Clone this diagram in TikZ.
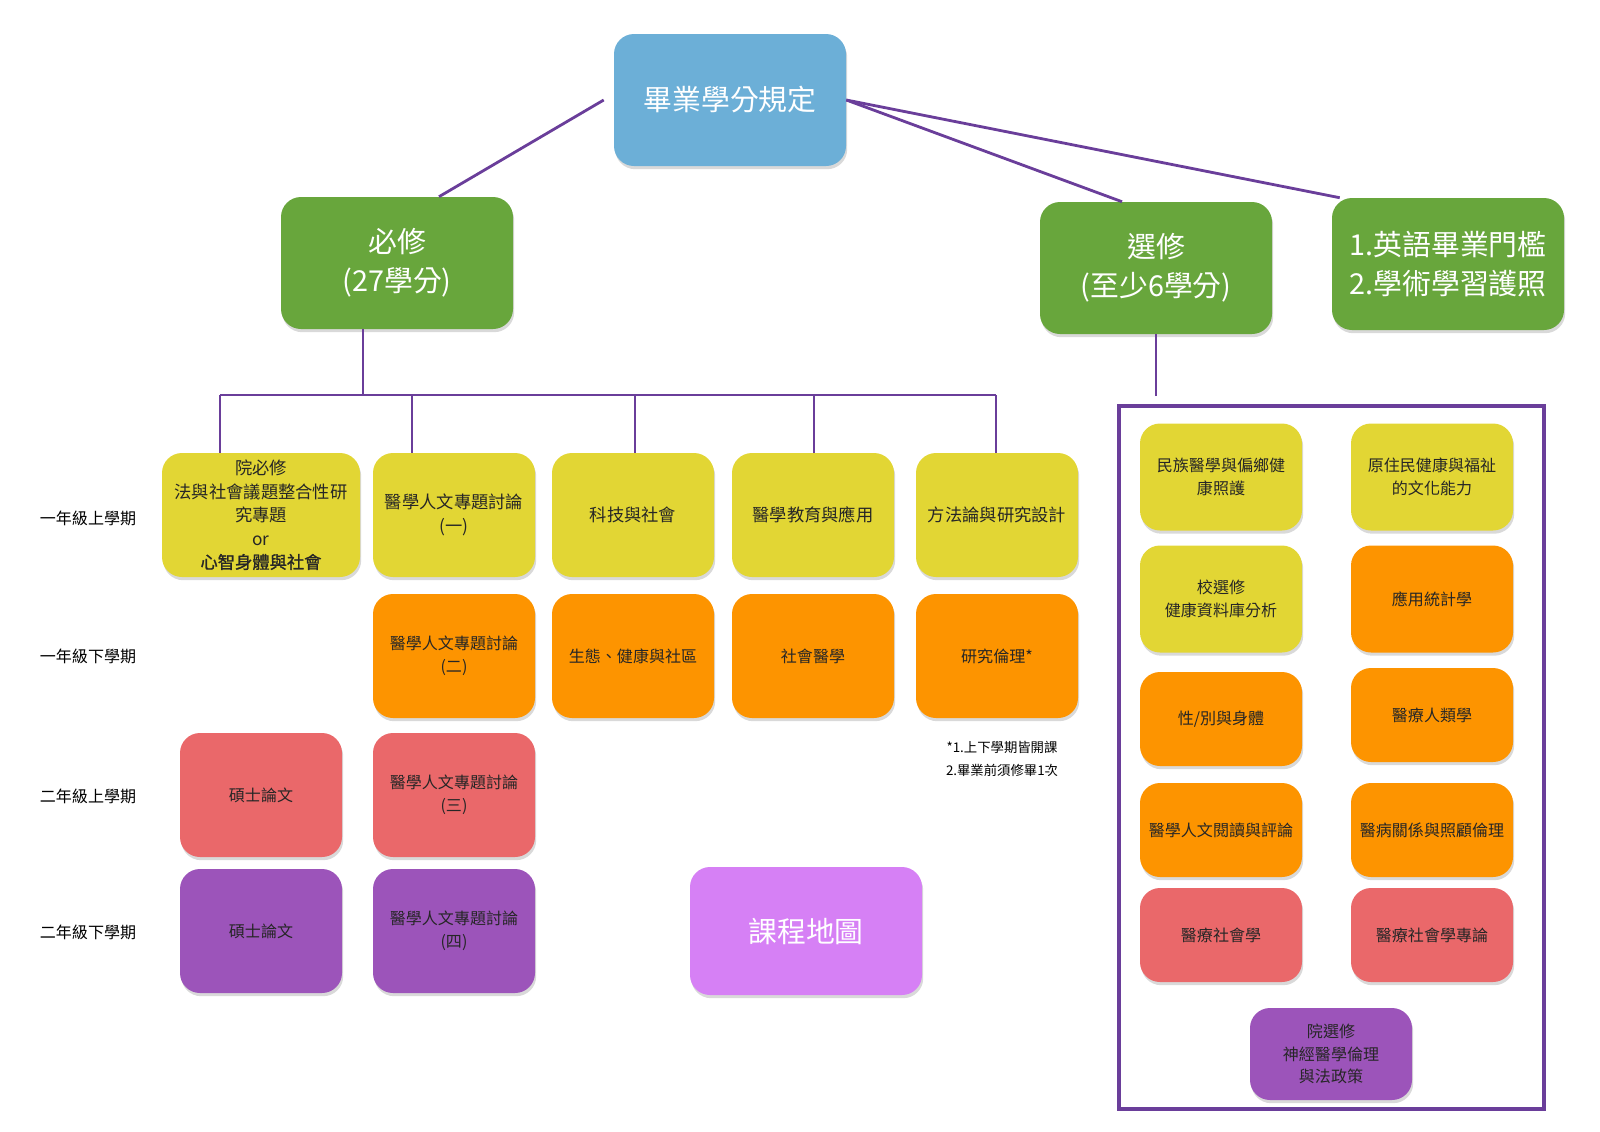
\documentclass[tikz,border=0pt]{standalone}
\usepackage{fontspec}
\setmainfont{Noto Sans CJK TC}
\newfontface\semibold[FakeBold=1.2]{Noto Sans CJK TC}
\usepackage{xcolor}
\usetikzlibrary{shadows}

\definecolor{skyblue}{RGB}{108,175,215}
\definecolor{leafgreen}{RGB}{104,166,60}
\definecolor{mustard}{RGB}{226,214,52}
\definecolor{tangerine}{RGB}{253,148,0}
\definecolor{salmon}{RGB}{234,104,106}
\definecolor{grape}{RGB}{156,84,186}
\definecolor{orchid}{RGB}{214,128,245}
\definecolor{linepurple}{RGB}{106,62,154}

\begin{document}
\begin{tikzpicture}[x=0.25mm,y=-0.25mm,
  box/.style={rounded corners=5mm, align=center, inner sep=2pt, text=black!85,
    drop shadow={opacity=0.3, shadow xshift=0.3mm, shadow yshift=-0.8mm}},
  big/.style={box, minimum width=58mm, minimum height=33mm, text=white,
    font=\fontsize{20.5}{28}\selectfont},
  course/.style={box, minimum width=40.5mm, minimum height=31mm,
    font=\fontsize{11.4}{16}\selectfont},
  firstrow/.style={course, fill=mustard, font=\fontsize{12.3}{16.7}\selectfont},
  elective/.style={box, minimum width=40.5mm, minimum height=23.5mm,
    font=\fontsize{11.4}{16}\selectfont},
  term/.style={font=\fontsize{11.4}{14}\selectfont},
  link/.style={draw=linepurple, line width=2pt}]
  \useasboundingbox (0,0) rectangle (1600,1131);

  \node[big, fill=skyblue] (rule) at (730,100) {畢業學分規定};
  \node[big, fill=leafgreen] (bixiu) at (397,263) {必修\\(27學分)};
  \node[big, fill=leafgreen] (xuanxiu) at (1156,268) {選修\\(至少6學分)};
  \node[big, fill=leafgreen] (ying) at (1448,264) {1.英語畢業門檻\\2.學術學習護照};

  \node[term] (t1) at (88,518) {一年級上學期};
  \node[term] (t2) at (88,656) {一年級下學期};
  \node[term] (t3) at (88,796) {二年級上學期};
  \node[term] (t4) at (88,932) {二年級下學期};

  \node[firstrow, minimum width=49.5mm] (r1a) at (261,515) {院必修\\法與社會議題整合性研\\究專題\\or\\{\semibold 心智身體與社會}};
  \node[firstrow] (r1b) at (454,515) {醫學人文專題討論\\(一)};
  \node[firstrow] (r1c) at (633,515) {科技與社會};
  \node[firstrow] (r1d) at (813,515) {醫學教育與應用};
  \node[firstrow] (r1e) at (997,515) {方法論與研究設計};

  \node[course, fill=tangerine] (r2b) at (454,656) {醫學人文專題討論\\(二)};
  \node[course, fill=tangerine] (r2c) at (633,656) {生態、健康與社區};
  \node[course, fill=tangerine] (r2d) at (813,656) {社會醫學};
  \node[course, fill=tangerine] (r2e) at (997,656) {研究倫理*};
  \node[align=center, font=\fontsize{9.5}{16}\selectfont] (note) at (1002,759) {*1.上下學期皆開課\\2.畢業前須修畢1次};

  \node[course, fill=salmon] (r3a) at (261,795) {碩士論文};
  \node[course, fill=salmon] (r3b) at (454,795) {醫學人文專題討論\\(三)};
  \node[course, fill=grape] (r4a) at (261,931) {碩士論文};
  \node[course, fill=grape] (r4b) at (454,931) {醫學人文專題討論\\(四)};

  \node[big, fill=orchid, minimum height=32mm] (map) at (806,931) {課程地圖};

  \draw[linepurple, line width=2.8pt] (1119,406) rectangle (1544,1109);
  \node[elective, fill=mustard, minimum height=26.75mm] (e1) at (1221,477) {民族醫學與偏鄉健\\康照護};
  \node[elective, fill=mustard, minimum height=26.75mm] (e2) at (1432,477) {原住民健康與福祉\\的文化能力};
  \node[elective, fill=mustard, minimum height=26.75mm] (e3) at (1221,599) {校選修\\健康資料庫分析};
  \node[elective, fill=tangerine, minimum height=26.75mm] (e4) at (1432,599) {應用統計學};
  \node[elective, fill=tangerine] (e5) at (1221,719) {性/別與身體};
  \node[elective, fill=tangerine] (e6) at (1432,715) {醫療人類學};
  \node[elective, fill=tangerine] (e7) at (1221,830) {醫學人文閱讀與評論};
  \node[elective, fill=tangerine] (e8) at (1432,830) {醫病關係與照顧倫理};
  \node[elective, fill=salmon] (e9) at (1221,935) {醫療社會學};
  \node[elective, fill=salmon] (e10) at (1432,935) {醫療社會學專論};
  \node[elective, fill=grape, minimum height=23mm] (e11) at (1331,1054) {院選修\\神經醫學倫理\\與法政策};

  \draw[link] ([xshift=-2.5mm]rule.west) -- ([xshift=10.5mm]bixiu.north);
  \draw[link] (rule.east) -- ([xshift=-8.5mm]xuanxiu.north);
  \draw[link] (rule.east) -- ([xshift=2mm]ying.north west);

  \coordinate (busL) at (220,395);
  \coordinate (busR) at (996,395);
  \draw[link] ([xshift=-8.5mm]bixiu.south) -- ([xshift=-8.5mm]bixiu.south |- busL);
  \draw[link] (busL) -- (busR);
  \foreach \x/\n in {220/r1a,412/r1b,635/r1c,814/r1d,996/r1e}{
    \coordinate (d\n) at (\x,395);
    \draw[link] (d\n) -- (d\n |- \n.north);
  }
  \coordinate (xend) at (1157,396);
  \draw[link] (xuanxiu.south |- xend) -- (xuanxiu.south);
\end{tikzpicture}
\end{document}
